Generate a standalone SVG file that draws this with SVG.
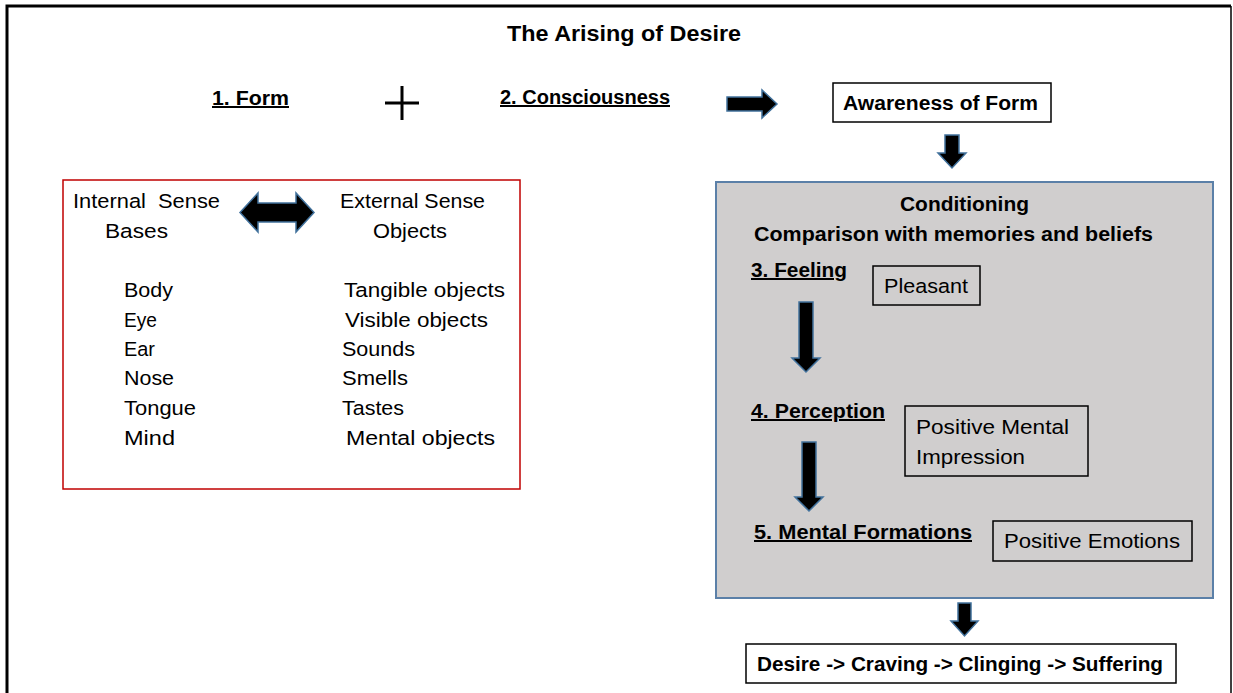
<svg xmlns="http://www.w3.org/2000/svg" width="1233" height="693" viewBox="0 0 1233 693">
<style>
text{font-family:"Liberation Sans",Arial,sans-serif;font-size:20.5px;fill:#000}
.b{font-weight:bold;font-size:20px}
.u{text-decoration:underline}
.box{fill:#fff;stroke:#000;stroke-width:1.5}
.arr{fill:#000;stroke:#41719c;stroke-width:1.5;stroke-linejoin:miter}
</style>
<rect width="1233" height="693" fill="#fff"/>
<g id="frame" fill="none" stroke="#000">
<path d="M7,693 V6 H1231" stroke-width="3"/>
<path d="M1231,6 V693" stroke-width="1.5"/>
</g>
<g id="title"><text class="b" x="507" y="41" textLength="234" lengthAdjust="spacingAndGlyphs" style="font-size:22px">The Arising of Desire</text></g>
<g id="form"><text class="b u" x="212" y="105" textLength="77" lengthAdjust="spacingAndGlyphs">1. Form</text></g>
<g id="plus" stroke="#000" stroke-width="3"><path d="M402,86 V120 M385,103 H419"/></g>
<g id="consciousness"><text class="b u" x="500" y="104" textLength="170" lengthAdjust="spacingAndGlyphs">2. Consciousness</text></g>
<g id="awareness"><rect class="box" x="833" y="83" width="218" height="39"/><text class="b" x="843" y="110" textLength="195" lengthAdjust="spacingAndGlyphs">Awareness of Form</text></g>
<g id="senses">
<rect x="63" y="180" width="457" height="309" fill="#fff" stroke="#c00000" stroke-width="1.5"/>
<text x="73" y="208" textLength="147" lengthAdjust="spacingAndGlyphs" xml:space="preserve">Internal  Sense</text>
<text x="105" y="238" textLength="63" lengthAdjust="spacingAndGlyphs">Bases</text>
<text x="340" y="208" textLength="145" lengthAdjust="spacingAndGlyphs">External Sense</text>
<text x="373" y="238" textLength="74" lengthAdjust="spacingAndGlyphs">Objects</text>
<text x="124" y="297" textLength="49" lengthAdjust="spacingAndGlyphs">Body</text>
<text x="124" y="327" textLength="33" lengthAdjust="spacingAndGlyphs">Eye</text>
<text x="124" y="356" textLength="31" lengthAdjust="spacingAndGlyphs">Ear</text>
<text x="124" y="385" textLength="50" lengthAdjust="spacingAndGlyphs">Nose</text>
<text x="124" y="415" textLength="72" lengthAdjust="spacingAndGlyphs">Tongue</text>
<text x="124" y="445" textLength="51" lengthAdjust="spacingAndGlyphs">Mind</text>
<text x="344" y="297" textLength="161" lengthAdjust="spacingAndGlyphs">Tangible objects</text>
<text x="345" y="327" textLength="143" lengthAdjust="spacingAndGlyphs">Visible objects</text>
<text x="342" y="356" textLength="73" lengthAdjust="spacingAndGlyphs">Sounds</text>
<text x="342" y="385" textLength="66" lengthAdjust="spacingAndGlyphs">Smells</text>
<text x="342" y="415" textLength="62" lengthAdjust="spacingAndGlyphs">Tastes</text>
<text x="346" y="445" textLength="149" lengthAdjust="spacingAndGlyphs">Mental objects</text>
</g>
<g id="conditioning">
<rect x="716" y="182" width="497" height="416" fill="#d0cece" stroke="#5b80a8" stroke-width="2"/>
<text class="b" x="900" y="211" textLength="129" lengthAdjust="spacingAndGlyphs">Conditioning</text>
<text class="b" x="754" y="241" textLength="399" lengthAdjust="spacingAndGlyphs">Comparison with memories and beliefs</text>
</g>
<g id="feeling"><text class="b u" x="751" y="277" textLength="96" lengthAdjust="spacingAndGlyphs">3. Feeling</text></g>
<g id="pleasant"><rect x="873" y="266" width="107" height="39" fill="none" stroke="#000" stroke-width="1.5"/><text x="884" y="293" textLength="84" lengthAdjust="spacingAndGlyphs">Pleasant</text></g>
<g id="perception"><text class="b u" x="751" y="418" textLength="134" lengthAdjust="spacingAndGlyphs">4. Perception</text></g>
<g id="impression"><rect x="905" y="406" width="183" height="70" fill="none" stroke="#000" stroke-width="1.5"/><text x="916" y="434" textLength="153" lengthAdjust="spacingAndGlyphs">Positive Mental</text><text x="916" y="464" textLength="109" lengthAdjust="spacingAndGlyphs">Impression</text></g>
<g id="formations"><text class="b u" x="754" y="539" textLength="218" lengthAdjust="spacingAndGlyphs">5. Mental Formations</text></g>
<g id="emotions"><rect x="993" y="521" width="199" height="40" fill="none" stroke="#000" stroke-width="1.5"/><text x="1004" y="548" textLength="176" lengthAdjust="spacingAndGlyphs">Positive Emotions</text></g>
<g id="desire"><rect class="box" x="746" y="644" width="430" height="39"/><text class="b" x="757" y="671" textLength="406" lengthAdjust="spacingAndGlyphs">Desire -&gt; Craving -&gt; Clinging -&gt; Suffering</text></g>
<g id="connectors">
<path class="arr" d="M727,97 H762 V90 L777,104 L762,118 V111 H727 Z"/>
<path class="arr" d="M945,135 H959 V153 H966 L952,168 L938,153 H945 Z"/>
<path class="arr" d="M240,212.5 L258,193 V203 H296 V193 L314,212.5 L296,232 V222 H258 V232 Z"/>
<path class="arr" d="M799,302 H813 V358 H820 L806,372 L792,358 H799 Z"/>
<path class="arr" d="M802,442 H816 V497 H823 L809,511 L795,497 H802 Z"/>
<path class="arr" d="M958,603 H971 V621 H978 L964.5,636 L951,621 H958 Z"/>
</g>
</svg>
